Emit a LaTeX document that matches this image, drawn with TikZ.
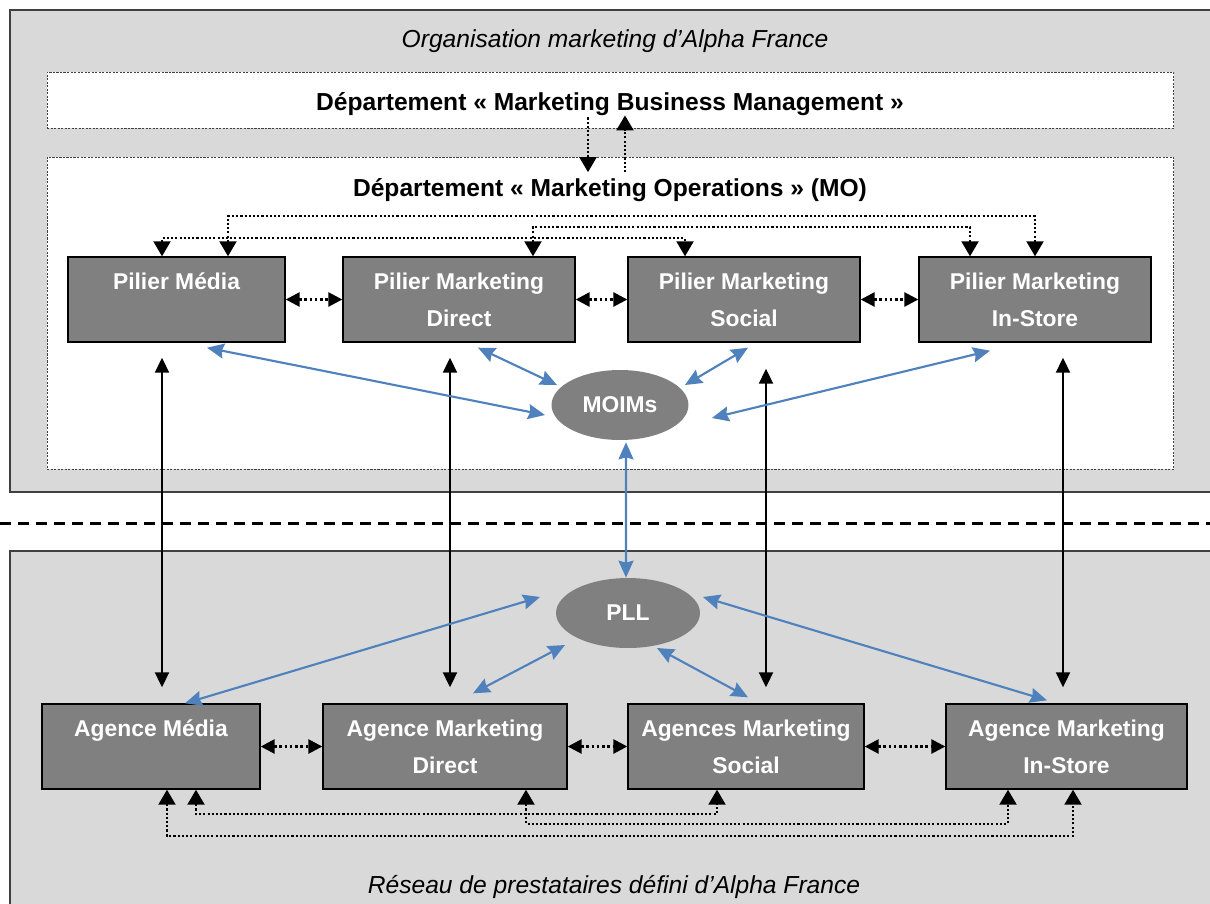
\documentclass[tikz,border=0pt]{standalone}
\usepackage{fontspec}
\setmainfont{Liberation Sans}
\usetikzlibrary{arrows.meta,shapes.geometric}
\definecolor{panelgray}{RGB}{217,217,217}
\definecolor{boxgray}{RGB}{128,128,128}
\definecolor{linkblue}{RGB}{79,129,189}
\begin{document}
\begin{tikzpicture}[x=0.02cm, y=-0.02cm,
    panel/.style={draw=black!75, fill=panelgray, line width=0.6pt},
    frame/.style={draw=black!75, fill=white, line width=0.5pt, dash pattern=on 1.2pt off 0.8pt},
    box/.style={draw=black, fill=boxgray, line width=0.8pt, text=white, align=center,
        font=\fontsize{13}{21}\selectfont\bfseries, minimum height=1.7cm, inner sep=0pt},
    hub/.style={ellipse, fill=boxgray, text=white, font=\fontsize{13}{16}\selectfont\bfseries,
        minimum height=1.4cm, inner sep=0pt},
    title/.style={font=\fontsize{14}{17}\selectfont\itshape},
    head/.style={font=\fontsize{14}{17}\selectfont\bfseries},
    peer/.style={line width=1.5pt, dash pattern=on 1.5pt off 1.5pt, >={Triangle[length=0.28cm,width=0.28cm]}},
    route/.style={line width=1.2pt, dash pattern=on 1.2pt off 1.2pt, >={Triangle[length=0.3cm,width=0.34cm]}},
    link/.style={line width=1.1pt, >={Triangle[length=0.3cm,width=0.28cm]}},
    feed/.style={linkblue, line width=1.2pt, >={Stealth[length=0.34cm,width=0.3cm,inset=0.04cm]}}]

    \clip (0,0) rectangle (1210,903);
    \draw[panel] (10,10) rectangle (1225,492);
    \draw[panel] (10,551) rectangle (1225,915);
    \draw[line width=1.7pt, dash pattern=on 0.22cm off 0.14cm] (0,523) -- (1210,523);

    \node[title] (orgtitle) at (615,41) {Organisation marketing d’Alpha France};
    \node[title] (nettitle) at (614,887) {Réseau de prestataires défini d’Alpha France};

    \node[frame, minimum width=22.54cm, minimum height=1.12cm] (mbm) at (610.5,100) {};
    \node[head] (mbmtitle) at (610,104) {Département « Marketing Business Management »};
    \node[frame, minimum width=22.54cm, minimum height=6.24cm] (mo) at (610.5,313) {};
    \node[head] (motitle) at (610,190) {Département « Marketing Operations » (MO)};

    \node[box, minimum width=4.34cm] (pmedia) at (176.5,299.5) {Pilier Média\\~};
    \node[box, minimum width=4.64cm] (pdirect) at (459,299.5) {Pilier Marketing\\Direct};
    \node[box, minimum width=4.64cm] (psocial) at (744,299.5) {Pilier Marketing\\Social};
    \node[box, minimum width=4.64cm] (pinstore) at (1035,299.5) {Pilier Marketing\\In-Store};

    \node[box, minimum width=4.36cm] (amedia) at (151,746.5) {Agence Média\\~};
    \node[box, minimum width=4.88cm] (adirect) at (445,746.5) {Agence Marketing\\Direct};
    \node[box, minimum width=4.72cm] (asocial) at (746,746.5) {Agences Marketing\\Social};
    \node[box, minimum width=4.82cm] (ainstore) at (1066.5,746.5) {Agence Marketing\\In-Store};

    \node[hub, minimum width=2.74cm] (moims) at (620,405) {MOIMs};
    \node[hub, minimum width=2.88cm] (pll) at (628,613) {PLL};

    \draw[route,->] ([xshift=-0.45cm,yshift=0.22cm]mbm.south) -- ([xshift=-0.45cm]motitle.north -| mbm.south);
    \draw[route,->] ([xshift=0.29cm]motitle.north -| mbm.south) -- ([xshift=0.29cm,yshift=0.26cm]mbm.south);

    \draw[peer,<->] (pmedia) -- (pdirect);
    \draw[peer,<->] (pdirect) -- (psocial);
    \draw[peer,<->] (psocial) -- (pinstore);
    \draw[peer,<->] (amedia) -- (adirect);
    \draw[peer,<->] (adirect) -- (asocial);
    \draw[peer,<->] (asocial) -- (ainstore);

    \draw[route,<->] ([xshift=1.03cm]pmedia.north) -- ++(0,-40) -| (pinstore.north);
    \draw[route,<->] ([xshift=1.48cm]pdirect.north) -- ++(0,-29) -| ([xshift=-1.3cm]pinstore.north);
    \draw[route,<->] ([xshift=-0.29cm]pmedia.north) -- ++(0,-18) -| ([xshift=-1.18cm]psocial.north);
    \draw[route,<->] ([xshift=0.9cm]amedia.south) -- ++(0,24) -| ([xshift=-0.58cm]asocial.south);
    \draw[route,<->] ([xshift=1.62cm]adirect.south) -- ++(0,34) -| ([xshift=-1.17cm]ainstore.south);
    \draw[route,<->] ([xshift=0.32cm]amedia.south) -- ++(0,46) -| ([xshift=0.13cm]ainstore.south);

    \draw[link,<->] ([xshift=-0.29cm,yshift=-0.3cm]pmedia.south) -- ([xshift=0.22cm,yshift=0.32cm]amedia.north);
    \draw[link,<->] ([xshift=-0.18cm,yshift=-0.3cm]pdirect.south) -- ([xshift=0.1cm,yshift=0.32cm]adirect.north);
    \draw[link,<->] ([xshift=0.44cm,yshift=-0.52cm]psocial.south) -- ([xshift=0.4cm,yshift=0.32cm]asocial.north);
    \draw[link,<->] ([xshift=0.56cm,yshift=-0.3cm]pinstore.south) -- ([xshift=-0.07cm,yshift=0.32cm]ainstore.north);

    \draw[feed,<->] ([xshift=0.61cm,yshift=-0.1cm]pmedia.south) -- ([xshift=-1.5cm,yshift=-0.2cm]moims.center);
    \draw[feed,<->] ([xshift=0.38cm,yshift=-0.1cm]pdirect.south) -- ([xshift=-1.26cm,yshift=0.4cm]moims.center);
    \draw[feed,<->] ([xshift=0.08cm,yshift=-0.1cm]psocial.south) -- ([xshift=1.3cm,yshift=0.4cm]moims.center);
    \draw[feed,<->] ([xshift=-0.9cm,yshift=-0.16cm]pinstore.south) -- ([xshift=1.84cm,yshift=-0.26cm]moims.center);
    \draw[feed,<->] ([xshift=0.12cm,yshift=-0.04cm]moims.south) -- ([xshift=-0.04cm]pll.north);
    \draw[feed,<->] ([xshift=-1.76cm,yshift=0.32cm]pll.center) -- ([xshift=0.68cm]amedia.north);
    \draw[feed,<->] ([xshift=-1.26cm,yshift=-0.64cm]pll.center) -- ([xshift=0.56cm,yshift=0.2cm]adirect.north);
    \draw[feed,<->] ([xshift=0.58cm,yshift=-0.7cm]pll.center) -- ([xshift=0.04cm,yshift=0.12cm]asocial.north);
    \draw[feed,<->] ([xshift=1.5cm,yshift=0.32cm]pll.center) -- ([xshift=-0.39cm,yshift=0.06cm]ainstore.north);
\end{tikzpicture}
\end{document}
